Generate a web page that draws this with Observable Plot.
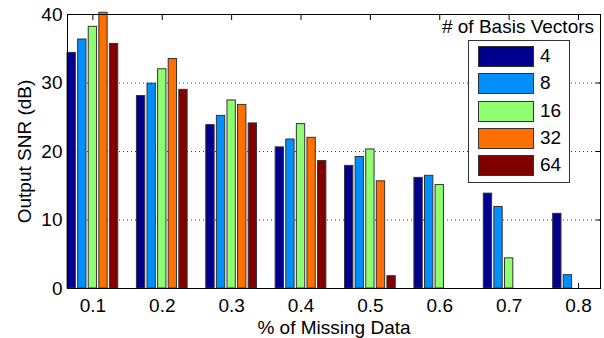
<!DOCTYPE html>
<html>
<head>
<meta charset="utf-8">
<script src="https://cdn.jsdelivr.net/npm/d3@7"></script>
<script src="https://cdn.jsdelivr.net/npm/@observablehq/plot@0.6"></script>
<style>
  html, body { margin: 0; padding: 0; background: #fff; }
  #wrap { position: relative; width: 604px; height: 338px; font-family: "Liberation Sans", Arial, sans-serif; }
  #legend-title { position: absolute; font-size: 19px; color: #000; white-space: nowrap; }
  #legend { position: absolute; border: 1px solid #333; background: #fff; box-sizing: border-box; }
  .item { position: absolute; font-size: 19px; color: #000; }
  .sw { position: absolute; border: 1px solid #333; box-sizing: border-box; }
</style>
</head>
<body>
<div id="wrap"></div>
<script>
const categories = [0.1, 0.2, 0.3, 0.4, 0.5, 0.6, 0.7, 0.8];
const seriesNames = ["4", "8", "16", "32", "64"];
const seriesColors = ["#00008f", "#008fff", "#8fff70", "#ff7000", "#800000"];
const snr4  = [34.4, 28.1, 23.85, 20.6, 17.9, 16.15, 13.85, 10.9];
const snr8  = [36.35, 29.9, 25.2, 21.75, 19.2, 16.45, 11.9, 1.95];
const snr16 = [38.2, 32.0, 27.45, 24.0, 20.3, 15.1, 4.4, 0];
const snr32 = [40.25, 33.5, 26.8, 22.0, 15.65, 0, 0, 0];
const snr64 = [35.7, 29.0, 24.1, 18.6, 1.8, 0, 0, 0];
const yTicks = [0, 10, 20, 30, 40];
const xLabel = "% of Missing Data";
const yLabel = "Output SNR (dB)";
const legendTitle = "# of Basis Vectors";

const seriesValues = [snr4, snr8, snr16, snr32, snr64];
const pitch = 0.01527, barW = 0.0120;
const data = [];
seriesValues.forEach((vals, si) => {
  vals.forEach((v, ci) => {
    if (v > 0) {
      const c = categories[ci] + (si - 2) * pitch;
      data.push({cat: categories[ci], series: seriesNames[si], color: seriesColors[si], v, x1: c - barW / 2, x2: c + barW / 2});
    }
  });
});

const chart = Plot.plot({
  width: 604,
  height: 338,
  marginTop: 14,
  marginBottom: 50,
  marginLeft: 67,
  marginRight: 4,
  style: {fontFamily: "Liberation Sans, Arial, sans-serif", fontSize: "19px", background: "#fff", color: "#000"},
  x: {type: "linear", domain: [0.0634, 0.8317]},
  y: {domain: [0, 40]},
  marks: [
    Plot.gridY(yTicks.filter(d => d > 0), {stroke: "#000", strokeOpacity: 0.75, strokeDasharray: "1,3"}),
    Plot.axisY(yTicks, {anchor: "left", tickSize: -5, tickPadding: 10, label: yLabel, labelAnchor: "center", labelArrow: "none", labelOffset: 50, stroke: "#000"}),
    Plot.axisY(yTicks, {anchor: "right", tickSize: -5, tickFormat: () => "", label: null, stroke: "#000"}),
    Plot.axisX(categories, {anchor: "bottom", tickSize: -5, tickPadding: 15, tickFormat: d => d.toFixed(1), label: xLabel, labelAnchor: "center", labelArrow: "none", labelOffset: 45, stroke: "#000"}),
    Plot.axisX(categories, {anchor: "top", tickSize: -5, tickFormat: () => "", label: null, stroke: "#000"}),
    Plot.rect(data, {x1: "x1", x2: "x2", y1: 0, y2: "v", fill: "color", stroke: "#333", strokeWidth: 1}),
    Plot.frame({stroke: "#000", strokeWidth: 1})
  ]
});

const wrap = document.getElementById("wrap");
wrap.appendChild(chart);

// Legend overlay
const lt = document.createElement("div");
lt.id = "legend-title";
lt.textContent = legendTitle;
wrap.appendChild(lt);
const lg = document.createElement("div");
lg.id = "legend";
lg.style.left = "468px"; lg.style.top = "40px"; lg.style.width = "102px"; lg.style.height = "143px";
wrap.appendChild(lg);
seriesNames.forEach((name, i) => {
  const sw = document.createElement("div");
  sw.className = "sw";
  sw.style.left = "9px"; sw.style.top = (5 + i * 27.3) + "px";
  sw.style.width = "56px"; sw.style.height = "21px";
  sw.style.background = seriesColors[i];
  lg.appendChild(sw);
  const t = document.createElement("div");
  t.className = "item";
  t.textContent = name;
  t.style.left = "71px"; t.style.top = (4 + i * 27.3) + "px";
  t.style.lineHeight = "22px";
  lg.appendChild(t);
});
const w = lt.getBoundingClientRect().width;
lt.style.left = (518 - w / 2) + "px";
lt.style.top = "16px";
lt.style.lineHeight = "22px";
</script>
</body>
</html>
